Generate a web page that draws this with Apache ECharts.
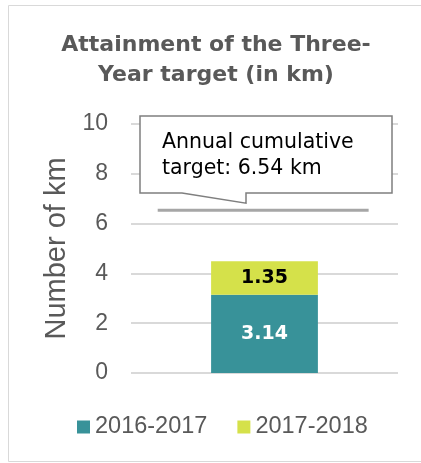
<!DOCTYPE html>
<html><head><meta charset="utf-8">
<script src="https://cdn.jsdelivr.net/npm/echarts@6/dist/echarts.min.js"></script>
<style>html,body{margin:0;padding:0;background:#fff;}#c{width:421px;height:463px;}</style>
</head><body><div id="c"></div>
<script>
const categories = [''];
const series2016 = [3.14];
const series2017 = [1.35];
const seriesNames = ['2016-2017', '2017-2018'];
const targetValue = [6.54];
const yTicks = [0, 2, 4, 6, 8, 10];
const titleText = 'Attainment of the Three-\nYear target (in km)';
const calloutText = 'Annual cumulative\ntarget: 6.54 km';

const FONT = 'DejaVu Sans';
const FONT2 = 'Liberation Sans';
const chart = echarts.init(document.getElementById('c'));
const option = {
  animation: false,
  textStyle: { fontFamily: FONT },
  legend: {
    left: 77, top: 415, padding: 0, itemWidth: 13, itemHeight: 13, itemGap: 30,
    icon: 'rect',
    textStyle: { fontFamily: FONT2, fontSize: 23.5, color: '#595959' },
    data: seriesNames
  },
  grid: { left: 131, right: 23, top: 124, bottom: 90 },
  xAxis: [
    { type: 'category', data: categories, axisLine: { show: false }, axisTick: { show: false }, axisLabel: { show: false } },
    { type: 'value', min: 0, max: 1, show: false }
  ],
  yAxis: {
    type: 'value', min: yTicks[0], max: yTicks[yTicks.length - 1], interval: 2,
    name: 'Number of km', nameLocation: 'middle', nameGap: 58,
    nameTextStyle: { fontFamily: FONT2, fontSize: 29, color: '#595959' },
    axisLine: { show: false }, axisTick: { show: false },
    axisLabel: { fontFamily: FONT2, fontSize: 23, color: '#595959', margin: 23 },
    splitLine: { lineStyle: { color: '#d9d9d9', width: 2 } }
  },
  series: [
    {
      name: seriesNames[0], type: 'bar', stack: 's', barWidth: '40%',
      data: series2016, itemStyle: { color: '#389299' },
      label: { show: true, position: 'inside', color: '#ffffff', fontFamily: FONT, fontSize: 19, fontWeight: 'bold' }
    },
    {
      name: seriesNames[1], type: 'bar', stack: 's', barWidth: '40%',
      data: series2017, itemStyle: { color: '#d5e14a' },
      label: { show: true, position: 'inside', color: '#000000', fontFamily: FONT, fontSize: 19, fontWeight: 'bold' }
    },
    {
      name: 'target', type: 'line', xAxisIndex: 1, symbol: 'none', silent: true,
      data: [[0.1, targetValue[0]], [0.89, targetValue[0]]],
      lineStyle: { color: '#a6a6a6', width: 3 }
    }
  ]
};
chart.setOption(option);

const tipY = chart.convertToPixel({ yAxisIndex: 0 }, targetValue[0]) - 7;
const boxTop = 116, boxBottom = 193, boxLeft = 140, boxRight = 392;
chart.setOption({
  graphic: [
    { type: 'polyline', silent: true, shape: { points: [[421, 5.5], [8.5, 5.5], [8.5, 461.5], [421, 461.5]] }, style: { fill: 'none', stroke: '#d9d9d9', lineWidth: 1 } },
    {
      type: 'text', x: 216, y: 30, silent: true,
      style: { text: titleText, font: 'bold 22px "DejaVu Sans"', fill: '#595959', align: 'center', verticalAlign: 'top', lineHeight: 30 }
    },
    {
      type: 'polygon', silent: true,
      shape: { points: [[boxLeft, boxTop], [boxRight, boxTop], [boxRight, boxBottom], [246, boxBottom], [246, tipY], [182, boxBottom], [boxLeft, boxBottom]] },
      style: { fill: '#ffffff', stroke: '#7f7f7f', lineWidth: 1.5 }
    },
    {
      type: 'text', x: 162, y: 130, silent: true,
      style: { text: calloutText, font: '20.5px "DejaVu Sans"', fill: '#000000', lineHeight: 26, verticalAlign: 'top' }
    }
  ]
});
</script></body></html>
